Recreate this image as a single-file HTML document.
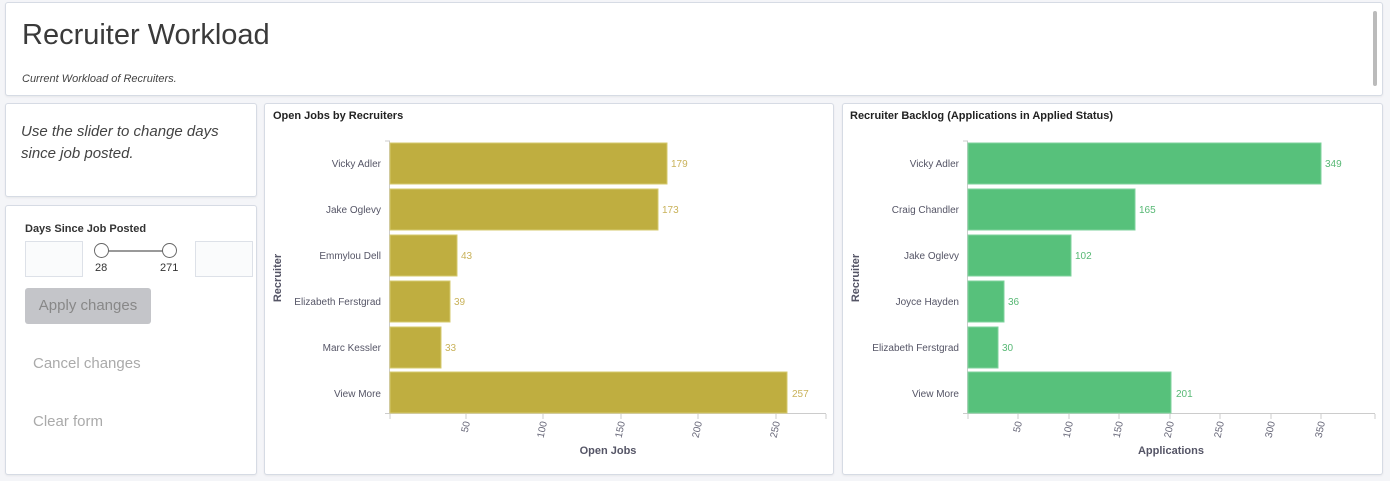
<!DOCTYPE html>
<html><head><meta charset="utf-8"><style>
body{margin:0;width:1390px;height:481px;background:#f4f5f8;font-family:"Liberation Sans",sans-serif;position:relative;overflow:hidden}
.p{position:absolute;background:#fff;border:1px solid #d6dbe4;border-radius:3px;box-sizing:border-box;box-shadow:0 1px 2px rgba(0,0,0,.06)}
</style></head><body>
<div class="p" style="left:5px;top:2px;width:1378px;height:94px">
<div style="position:absolute;left:16px;top:16px;font-size:29px;color:#3a3a3a">Recruiter Workload</div>
<div style="position:absolute;left:16px;top:70px;font-size:11px;font-style:italic;color:#444">Current Workload of Recruiters.</div>
<div style="position:absolute;left:1367px;top:8px;width:4px;height:75px;background:#bbb;border-radius:2px"></div>
</div>
<div class="p" style="left:5px;top:103px;width:252px;height:94px">
<div style="position:absolute;left:15px;top:17px;font-size:15px;font-style:italic;color:#444;line-height:22px">Use the slider to change days<br>since job posted.</div>
</div>
<div class="p" style="left:5px;top:205px;width:252px;height:270px">
<div style="position:absolute;left:19px;top:17px;font-size:11px;font-weight:bold;color:#333">Days Since Job Posted</div>
<div style="position:absolute;left:19px;top:35px;width:58px;height:36px;border:1px solid #dde1e8;background:#fafbfc;box-sizing:border-box"></div>
<div style="position:absolute;left:189px;top:35px;width:58px;height:36px;border:1px solid #dde1e8;background:#fafbfc;box-sizing:border-box"></div>
<div style="position:absolute;left:96px;top:44px;width:70px;height:2px;background:#999"></div>
<div style="position:absolute;left:88px;top:37px;width:13px;height:13px;border:1px solid #666;border-radius:50%;background:#fff"></div>
<div style="position:absolute;left:156px;top:37px;width:13px;height:13px;border:1px solid #666;border-radius:50%;background:#fff"></div>
<div style="position:absolute;left:89px;top:56px;font-size:11px;color:#333">28</div>
<div style="position:absolute;left:154px;top:56px;font-size:11px;color:#333">271</div>
<div style="position:absolute;left:19px;top:82px;width:126px;height:36px;background:#c4c5c9;border-radius:3px;color:#888;font-size:15px;line-height:36px;text-align:center">Apply changes</div>
<div style="position:absolute;left:27px;top:149px;font-size:15px;color:#aaa">Cancel changes</div>
<div style="position:absolute;left:27px;top:207px;font-size:15px;color:#aaa">Clear form</div>
</div>
<div class="p" style="left:264px;top:103px;width:570px;height:372px"></div>
<div class="p" style="left:842px;top:103px;width:541px;height:372px"></div>
<svg width="1390" height="481" style="position:absolute;left:0;top:0" font-family="Liberation Sans, sans-serif">
<g font-size="11" font-weight="bold" fill="#222"><text x="273" y="119">Open Jobs by Recruiters</text><text x="850" y="119">Recruiter Backlog (Applications in Applied Status)</text></g>
<g stroke="#ccc" fill="none"><path d="M385 413.5H826M389.5 141V413M385 141H390"/><path d="M963 413.5H1375M967.5 141V413M963 141H968"/>
<path d="M466 414v5M543 414v5M621 414v5M698 414v5M776 414v5M390 414v5M826 414v5"/>
<path d="M1018 414v5M1069 414v5M1119 414v5M1170 414v5M1220 414v5M1271 414v5M1321 414v5M968 414v5M1375 414v5"/>
</g>
<g fill="#bfae40" stroke="#d6c96e"><rect x="390" y="143" width="277" height="41"/><rect x="390" y="189" width="268" height="41"/><rect x="390" y="235" width="67" height="41"/><rect x="390" y="281" width="60" height="41"/><rect x="390" y="327" width="51" height="41"/><rect x="390" y="372" width="397" height="41"/></g>
<g fill="#57c17b" stroke="#7fd29c"><rect x="968" y="143" width="353" height="41"/><rect x="968" y="189" width="167" height="41"/><rect x="968" y="235" width="103" height="41"/><rect x="968" y="281" width="36" height="41"/><rect x="968" y="327" width="30" height="41"/><rect x="968" y="372" width="203" height="41"/></g>
<g font-size="10" fill="#c9b25a"><text x="671" y="167">179</text><text x="662" y="213">173</text><text x="461" y="259">43</text><text x="454" y="305">39</text><text x="445" y="351">33</text><text x="792" y="397">257</text></g>
<g font-size="10" fill="#57b874"><text x="1325" y="167">349</text><text x="1139" y="213">165</text><text x="1075" y="259">102</text><text x="1008" y="305">36</text><text x="1002" y="351">30</text><text x="1176" y="397">201</text></g>
<g font-size="10" fill="#556" text-anchor="end"><text x="381" y="167">Vicky Adler</text><text x="381" y="213">Jake Oglevy</text><text x="381" y="259">Emmylou Dell</text><text x="381" y="305">Elizabeth Ferstgrad</text><text x="381" y="351">Marc Kessler</text><text x="381" y="397">View More</text>
<text x="959" y="167">Vicky Adler</text><text x="959" y="213">Craig Chandler</text><text x="959" y="259">Jake Oglevy</text><text x="959" y="305">Joyce Hayden</text><text x="959" y="351">Elizabeth Ferstgrad</text><text x="959" y="397">View More</text></g>
<g font-size="10" fill="#667" text-anchor="end">
<text transform="translate(470,422) rotate(-78)">50</text><text transform="translate(547,422) rotate(-78)">100</text><text transform="translate(625,422) rotate(-78)">150</text><text transform="translate(702,422) rotate(-78)">200</text><text transform="translate(780,422) rotate(-78)">250</text>
<text transform="translate(1022,422) rotate(-78)">50</text><text transform="translate(1073,422) rotate(-78)">100</text><text transform="translate(1123,422) rotate(-78)">150</text><text transform="translate(1174,422) rotate(-78)">200</text><text transform="translate(1224,422) rotate(-78)">250</text><text transform="translate(1275,422) rotate(-78)">300</text><text transform="translate(1325,422) rotate(-78)">350</text></g>
<g font-size="11" font-weight="bold" fill="#556" text-anchor="middle"><text x="608" y="454">Open Jobs</text><text x="1171" y="454">Applications</text>
<text transform="translate(281,278) rotate(-90)">Recruiter</text><text transform="translate(859,278) rotate(-90)">Recruiter</text></g>
</svg>
</body></html>
